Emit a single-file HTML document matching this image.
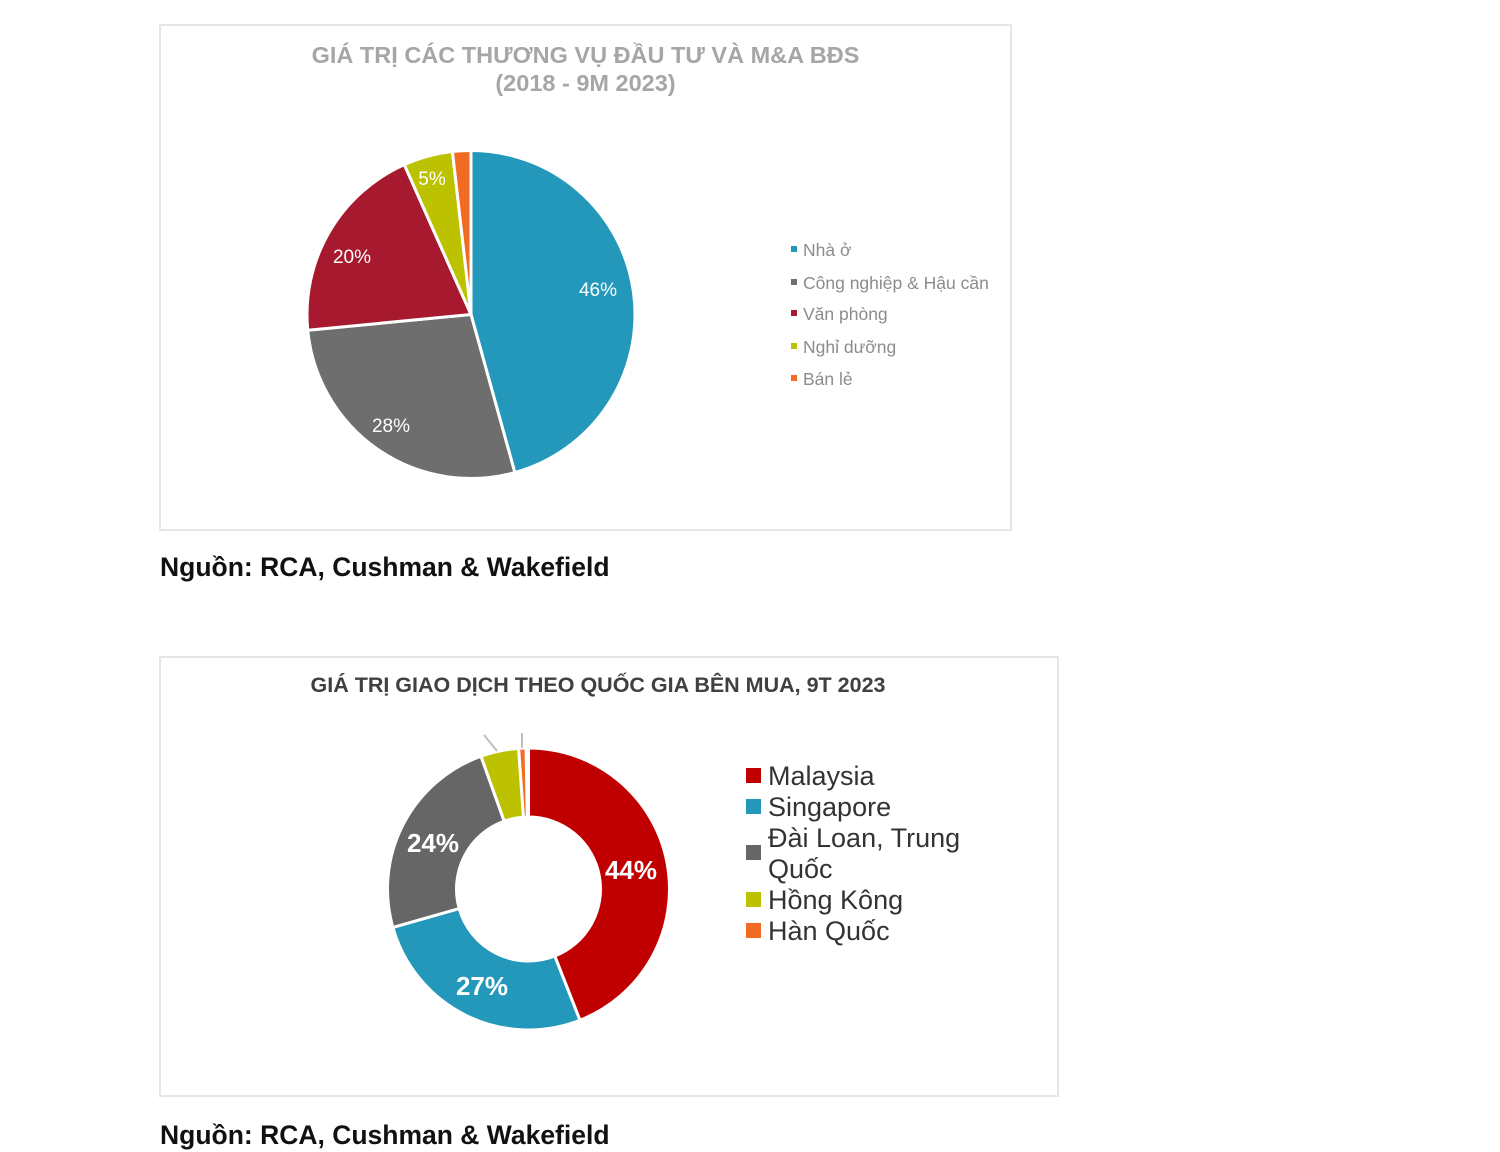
<!DOCTYPE html>
<html><head><meta charset="utf-8"><style>
body{margin:0;width:1500px;height:1152px;background:#fff;font-family:"Liberation Sans",sans-serif;position:relative;overflow:hidden}
.box{position:absolute;border:2px solid #e6e6e6;box-sizing:border-box}
.t{position:absolute;white-space:nowrap}
.src{position:absolute;left:160px;font-weight:bold;font-size:26.5px;color:#111}
</style></head><body>
<div class="box" style="left:159px;top:24px;width:853px;height:507px"></div>
<div class="box" style="left:159px;top:656px;width:900px;height:441px"></div>
<div class="t" style="left:160px;width:851px;top:41px;text-align:center;font-weight:bold;font-size:23.5px;color:#a6a6a6;line-height:28px">GIÁ TRỊ CÁC THƯƠNG VỤ ĐẦU TƯ VÀ M&amp;A BĐS<br>(2018 - 9M 2023)</div>
<div class="t" style="left:160px;width:876px;top:673px;text-align:center;font-weight:bold;font-size:21.5px;color:#404040">GIÁ TRỊ GIAO DỊCH THEO QUỐC GIA BÊN MUA, 9T 2023</div>
<div class="src" style="top:552px">Nguồn: RCA, Cushman &amp; Wakefield</div>
<div class="src" style="top:1120px">Nguồn: RCA, Cushman &amp; Wakefield</div>
<svg id="s" width="1500" height="1152" style="position:absolute;left:0;top:0" font-family="Liberation Sans, sans-serif"></svg>
<script>
var s=document.getElementById('s'),h='';
function P(cx,cy,r,a,b){a=a*Math.PI/180;b=b*Math.PI/180;return [cx+r*Math.sin(a),cy-r*Math.cos(a),cx+r*Math.sin(b),cy-r*Math.cos(b)];}
function slice(cx,cy,r,ri,a,b,c){var o=P(cx,cy,r,a,b),l=(b-a)>180?1:0;
 if(!ri) return '<path d="M'+cx+','+cy+'L'+o[0]+','+o[1]+'A'+r+','+r+' 0 '+l+' 1 '+o[2]+','+o[3]+'Z" fill="'+c+'" stroke="#fff" stroke-width="3"/>';
 var i=P(cx,cy,ri,a,b);return '<path d="M'+i[0]+','+i[1]+'L'+o[0]+','+o[1]+'A'+r+','+r+' 0 '+l+' 1 '+o[2]+','+o[3]+'L'+i[2]+','+i[3]+'A'+ri+','+ri+' 0 '+l+' 0 '+i[0]+','+i[1]+'Z" fill="'+c+'" stroke="#fff" stroke-width="3"/>';}
var d1=[[0,164.5,'#2498ba'],[164.5,264.5,'#6e6e6e'],[264.5,336,'#a6192e'],[336,353.5,'#bdc200'],[353.5,360,'#f26b22']];
d1.forEach(function(x){h+=slice(471,314.5,164,0,x[0],x[1],x[2]);});
var d2=[[0,158.6,'#c00000'],[158.6,254.2,'#2498ba'],[254.2,340.3,'#666666'],[340.3,356,'#bdc200'],[356,359,'#f26b22']];
d2.forEach(function(x){h+=slice(528.5,889,141,72,x[0],x[1],x[2]);});
h+='<line x1="484" y1="735" x2="497" y2="751" stroke="#bfbfbf" stroke-width="2"/><line x1="522" y1="733" x2="522" y2="748" stroke="#bfbfbf" stroke-width="2"/>';
var L1=[['46%',598,296],['28%',391,432],['20%',352,263],['5%',432,185]];
L1.forEach(function(x){h+='<text x="'+x[1]+'" y="'+x[2]+'" fill="#fff" font-size="19" text-anchor="middle">'+x[0]+'</text>';});
var L2=[['44%',631,879],['27%',482,995],['24%',433,852]];
L2.forEach(function(x){h+='<text x="'+x[1]+'" y="'+x[2]+'" fill="#fff" font-size="26" font-weight="bold" text-anchor="middle">'+x[0]+'</text>';});
var g1=[['Nhà ở','#2498ba',250],['Công nghiệp &amp; Hậu cần','#6e6e6e',283],['Văn phòng','#a6192e',314],['Nghỉ dưỡng','#bdc200',347],['Bán lẻ','#f26b22',379]];
g1.forEach(function(x){h+='<rect x="791" y="'+(x[2]-4)+'" width="6" height="6" fill="'+x[1]+'"/><text x="803" y="'+(x[2]+6)+'" fill="#8c8c8c" font-size="17.5">'+x[0]+'</text>';});
var g2=[['Malaysia','#c00000',776],['Singapore','#2498ba',807],['Đài Loan, Trung','#666666',838],['Hồng Kông','#bdc200',900],['Hàn Quốc','#f26b22',931]];
g2.forEach(function(x,i){var my=i==2?853:x[2];h+='<rect x="746" y="'+(my-8)+'" width="15" height="15" fill="'+x[1]+'"/><text x="768" y="'+(x[2]+9)+'" fill="#333" font-size="27">'+x[0]+'</text>';});
h+='<text x="768" y="878" fill="#333" font-size="27">Quốc</text>';
s.innerHTML=h;
</script>
</body></html>
